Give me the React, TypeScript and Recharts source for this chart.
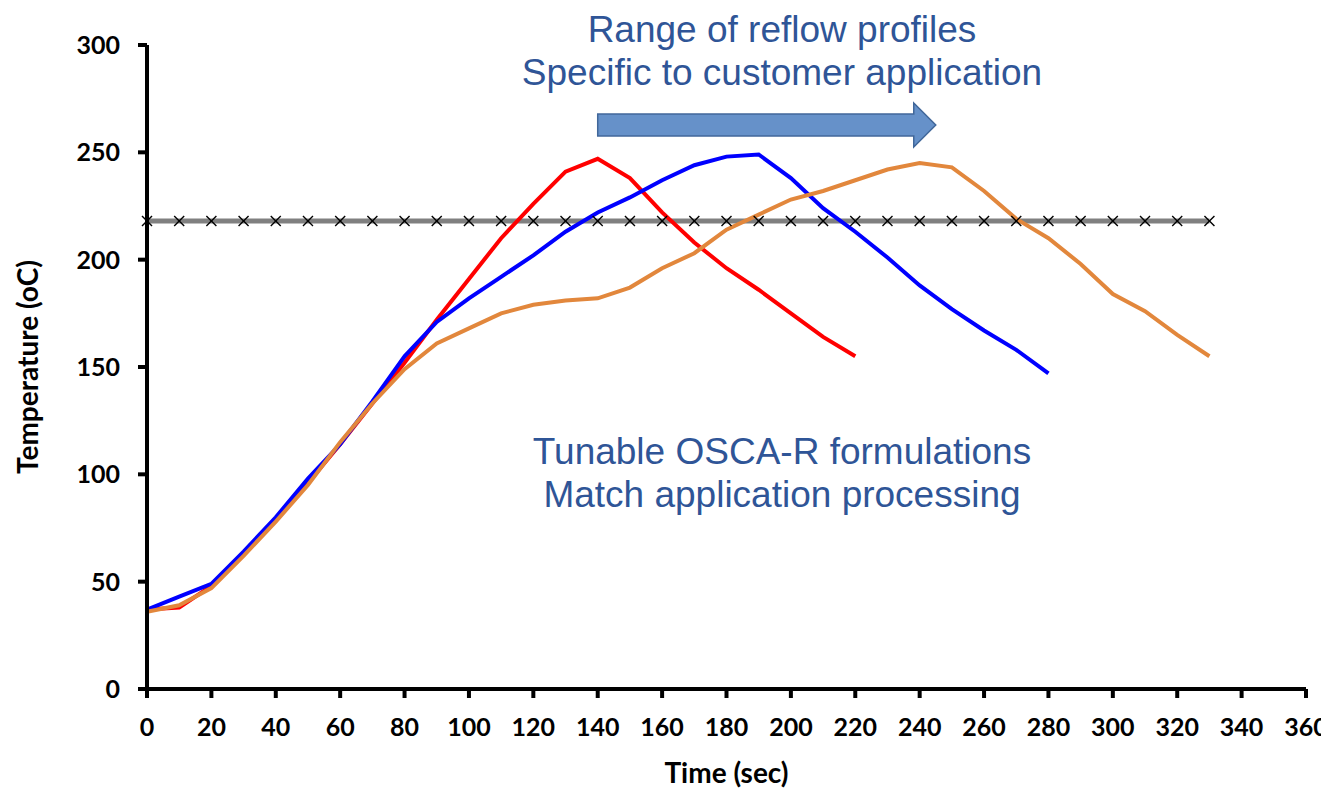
import {
  Line,
  LineChart,
  ReferenceArea,
  XAxis,
  YAxis,
} from "recharts";

// time axis in seconds (10 s sampling)
const timeSec = [
  0, 10, 20, 30, 40, 50, 60, 70, 80, 90, 100, 110, 120, 130, 140, 150, 160,
  170, 180, 190, 200, 210, 220, 230, 240, 250, 260, 270, 280, 290, 300, 310,
  320, 330,
];

// fast profile
const redProfile = [
  37, 38, 48, 63, 79, 96, 114, 133, 152, 172, 191, 210, 226, 241, 247, 238,
  222, 208, 196, 186, 175, 164, 155,
];

// medium profile
const blueProfile = [
  37, 43, 49, 64, 80, 98, 114, 134, 155, 171, 182, 192, 202, 213, 222, 229,
  237, 244, 248, 249, 238, 224, 213, 201, 188, 177, 167, 158, 147,
];

// slow profile
const orangeProfile = [
  36, 39, 47, 62, 78, 95, 115, 133, 149, 161, 168, 175, 179, 181, 182, 187,
  196, 203, 214, 221, 228, 232, 237, 242, 245, 243, 232, 219, 210, 198, 184,
  176, 165, 155,
];

// liquidus reference
const liquidusTemp = 218;

const xTicks = [
  0, 20, 40, 60, 80, 100, 120, 140, 160, 180, 200, 220, 240, 260, 280, 300,
  320, 340, 360,
];
const yTicks = [0, 50, 100, 150, 200, 250, 300];

const rows = timeSec.map((t, i) => ({
  t,
  red: redProfile[i],
  blue: blueProfile[i],
  orange: orangeProfile[i],
  limit: liquidusTemp,
}));

const tickFont = {
  fontFamily: "Lato, 'Open Sans', sans-serif",
  fontWeight: 700,
  fontSize: 25,
  fill: "#000",
};

const noteStyle: React.CSSProperties = {
  position: "absolute",
  left: 774,
  transform: "translateX(-50%)",
  whiteSpace: "nowrap",
  textAlign: "center",
  fontFamily: "'Liberation Sans', Arial, sans-serif",
  fontSize: 37,
  lineHeight: "43px",
  color: "#2f5597",
};

function CrossDot(props: any) {
  const { cx, cy } = props;
  if (cx == null || cy == null) return null;
  const s = 5;
  return (
    <g stroke="#000" strokeWidth={1.4}>
      <line x1={cx - s} y1={cy - s} x2={cx + s} y2={cy + s} />
      <line x1={cx - s} y1={cy + s} x2={cx + s} y2={cy - s} />
    </g>
  );
}

function BlockArrow(props: any) {
  const { x, y, width, height } = props;
  const head = 22;
  const bodyTop = y + height / 4;
  const bodyBottom = y + (height * 3) / 4;
  const neck = x + width - head;
  const pts = [
    [x, bodyTop],
    [neck, bodyTop],
    [neck, y],
    [x + width, y + height / 2],
    [neck, y + height],
    [neck, bodyBottom],
    [x, bodyBottom],
  ]
    .map((p) => p.join(","))
    .join(" ");
  return (
    <polygon points={pts} fill="#6691c9" stroke="#41679a" strokeWidth={1.5} />
  );
}

export default function App() {
  return (
    <div style={{ position: "relative", width: 1321, height: 781 }}>
      <LineChart
        width={1321}
        height={781}
        data={rows}
        margin={{ top: 37, right: 23, left: 0, bottom: 0 }}
        style={{ overflow: "visible" }}
      >
        <XAxis
          dataKey="t"
          type="number"
          domain={[0, 360]}
          ticks={xTicks}
          interval={0}
          height={100}
          stroke="#000"
          strokeWidth={4}
          tickSize={9}
          tickMargin={20}
          tick={tickFont}
          label={{
            value: "Time (sec)",
            position: "insideBottom",
            offset: 6,
            style: { ...tickFont, fontSize: 28 },
          }}
        />
        <YAxis
          domain={[0, 300]}
          ticks={yTicks}
          interval={0}
          width={139}
          stroke="#000"
          strokeWidth={4}
          tickSize={9}
          tickMargin={18}
          tick={tickFont}
          label={{
            value: "Temperature (oC)",
            angle: -90,
            position: "insideLeft",
            offset: 20,
            style: { ...tickFont, fontSize: 28, textAnchor: "middle" },
          }}
        />
        <ReferenceArea
          x1={140}
          x2={245}
          y1={252.5}
          y2={273}
          shape={<BlockArrow />}
          ifOverflow="visible"
        />
        <Line
          dataKey="limit"
          stroke="#808080"
          strokeWidth={5}
          dot={<CrossDot />}
          isAnimationActive={false}
        />
        <Line
          dataKey="red"
          stroke="#ff0000"
          strokeWidth={4}
          dot={false}
          isAnimationActive={false}
        />
        <Line
          dataKey="blue"
          stroke="#0000ff"
          strokeWidth={4}
          dot={false}
          isAnimationActive={false}
        />
        <Line
          dataKey="orange"
          stroke="#e2873c"
          strokeWidth={4}
          dot={false}
          isAnimationActive={false}
        />
      </LineChart>
      <div style={{ ...noteStyle, top: 0 }}>
        Range of reflow profiles
        <br />
        Specific to customer application
      </div>
      <div style={{ ...noteStyle, top: 422 }}>
        Tunable OSCA-R formulations
        <br />
        Match application processing
      </div>
    </div>
  );
}
